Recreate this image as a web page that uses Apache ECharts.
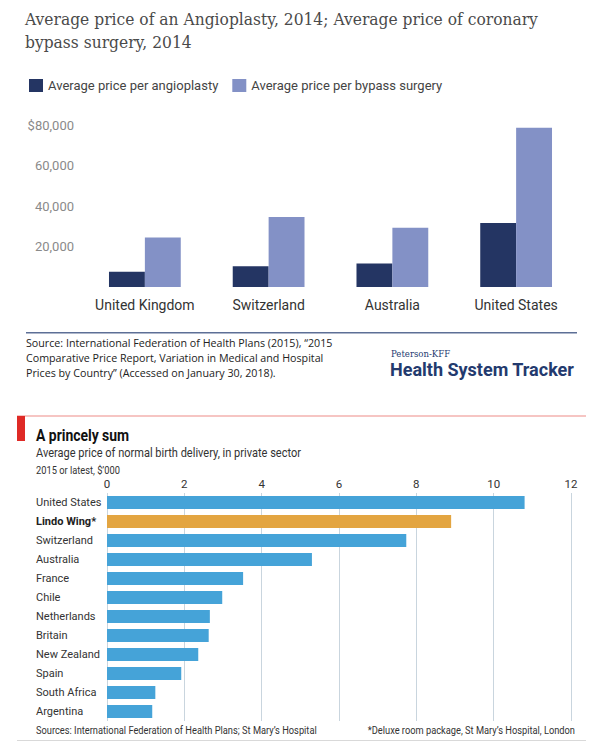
<!DOCTYPE html>
<html><head><meta charset="utf-8">
<script src="https://cdn.jsdelivr.net/npm/echarts@6/dist/echarts.min.js"></script>
<style>html,body{margin:0;padding:0;background:#fff}#c{width:602px;height:753px}</style>
</head><body><div id="c"></div>
<script>
// ---- Top chart data ----
const procCategories = ['United Kingdom', 'Switzerland', 'Australia', 'United States'];
const angioplastyPrice = [7500, 10300, 11600, 31600];
const bypassPrice = [24400, 34600, 29200, 78600];
const procTicks = [0, 20000, 40000, 60000, 80000];

// ---- Bottom chart data ----
const birthCategories = ['United States', 'Lindo Wing*', 'Switzerland', 'Australia', 'France', 'Chile', 'Netherlands', 'Britain', 'New Zealand', 'Spain', 'South Africa', 'Argentina'];
const birthPrice = [10.8, 8.9, 7.74, 5.3, 3.52, 2.98, 2.66, 2.63, 2.36, 1.92, 1.25, 1.17];
const birthTicks = [0, 2, 4, 6, 8, 10, 12];

const SANS = 'Roboto, sans-serif';
const OPEN = '"Open Sans", Roboto, sans-serif';
const SERIF = '"DejaVu Serif", serif';

const chart = echarts.init(document.getElementById('c'), null, {renderer: 'svg'});

function txt(x, y, text, font, fill, sx, align) {
  return {type: 'text', x: x, y: y, scaleX: sx || 1, originX: 0, originY: 0,
    style: {text: text, font: font, fill: fill || '#333', align: align || 'left', verticalAlign: 'top'}};
}

chart.setOption({
  animation: false,
  backgroundColor: '#fff',
  legend: {
    data: ['Average price per angioplasty', 'Average price per bypass surgery'],
    left: 24, top: 74, itemWidth: 14, itemHeight: 13, itemGap: 14,
    icon: 'rect',
    textStyle: {fontFamily: SANS, fontSize: 13, color: '#444'}
  },
  grid: [
    {left: 83, right: 24, top: 125, height: 162},
    {left: 107, right: 31, top: 493, height: 228}
  ],
  xAxis: [
    {gridIndex: 0, type: 'category', data: procCategories,
      axisLine: {show: false}, axisTick: {show: false},
      axisLabel: {interval: 0, margin: 11, fontFamily: SANS, fontSize: 14, color: '#333'}},
    {gridIndex: 1, type: 'value', position: 'top', min: birthTicks[0], max: birthTicks[birthTicks.length - 1], interval: 2,
      axisLine: {show: false}, axisTick: {show: false},
      splitLine: {show: true, lineStyle: {color: '#c9d5de', width: 1}},
      axisLabel: {margin: 3, fontFamily: SANS, fontSize: 11.5, color: '#333'}}
  ],
  yAxis: [
    {gridIndex: 0, type: 'value', min: procTicks[0], max: procTicks[procTicks.length - 1], interval: 20000,
      axisLine: {show: false}, axisTick: {show: false}, splitLine: {show: false},
      axisLabel: {margin: 9, fontFamily: SANS, fontSize: 13, color: '#8a8a8a',
        formatter: function (v) {
          if (v === 0) return '';
          const s = v.toLocaleString('en-US');
          return v === procTicks[procTicks.length - 1] ? '$' + s : s;
        }}},
    {gridIndex: 1, type: 'category', data: birthCategories, inverse: true,
      axisLine: {show: false}, axisTick: {show: false},
      axisLabel: {interval: 0, margin: 71, align: 'left', fontFamily: SANS, fontSize: 11, color: '#333',
        formatter: function (v) { return v === 'Lindo Wing*' ? '{b|' + v + '}' : v; },
        rich: {b: {fontWeight: 'bold', fontFamily: SANS, fontSize: 11, color: '#222'}}}}
  ],
  series: [
    {name: 'Average price per angioplasty', type: 'bar', xAxisIndex: 0, yAxisIndex: 0,
      data: angioplastyPrice, barGap: '0%', barCategoryGap: '42%',
      itemStyle: {color: '#243563'}},
    {name: 'Average price per bypass surgery', type: 'bar', xAxisIndex: 0, yAxisIndex: 0,
      data: bypassPrice, barGap: '0%', barCategoryGap: '42%',
      itemStyle: {color: '#8391c6'}},
    {name: 'birth', type: 'bar', xAxisIndex: 1, yAxisIndex: 1, barCategoryGap: '32%',
      data: birthPrice.map(function (v, i) {
        return {value: v, itemStyle: {color: birthCategories[i] === 'Lindo Wing*' ? '#e3a541' : '#45a3d8'}};
      })}
  ],
  graphic: [
    txt(25, 11, 'Average price of an Angioplasty, 2014; Average price of coronary', '16px ' + SERIF, '#4a4a4a', 0.97),
    txt(25, 34, 'bypass surgery, 2014', '16px ' + SERIF, '#4a4a4a', 0.97),
    {type: 'rect', shape: {x: 26, y: 332, width: 551, height: 1.5}, style: {fill: '#5d6f96'}},
    txt(26, 338, 'Source: International Federation of Health Plans (2015), \u201C2015', '10.5px ' + OPEN, '#222', 1.02),
    txt(26, 353, 'Comparative Price Report, Variation in Medical and Hospital', '10.5px ' + OPEN, '#222', 1.02),
    txt(26, 368, 'Prices by Country\u201D (Accessed on January 30, 2018).', '10.5px ' + OPEN, '#222', 1.02),
    txt(391, 349, 'Peterson-KFF', '9.5px ' + SERIF, '#243a70', 0.9),
    txt(390, 360, 'Health System Tracker', 'bold 18px ' + SANS, '#233a6e', 1.0),
    {type: 'rect', shape: {x: 17, y: 415.5, width: 569, height: 1}, style: {fill: '#ee8c88'}},
    {type: 'rect', shape: {x: 17, y: 416, width: 8, height: 25}, style: {fill: '#df2a26'}},
    txt(36, 428, 'A princely sum', 'bold 16px ' + SANS, '#111', 0.87),
    txt(36, 447, 'Average price of normal birth delivery, in private sector', '12px ' + SANS, '#333', 0.92),
    txt(36, 465, '2015 or latest, $\u2019000', '10px ' + SANS, '#333', 0.93),
    txt(36, 725, 'Sources: International Federation of Health Plans; St Mary\u2019s Hospital', '10px ' + SANS, '#333', 0.93),
    txt(575, 725, '*Deluxe room package, St Mary\u2019s Hospital, London', '10px ' + SANS, '#333', 0.93, 'right'),
    {type: 'rect', shape: {x: 17, y: 740, width: 569, height: 1}, style: {fill: '#d9d9d9'}}
  ]
});
</script></body></html>
